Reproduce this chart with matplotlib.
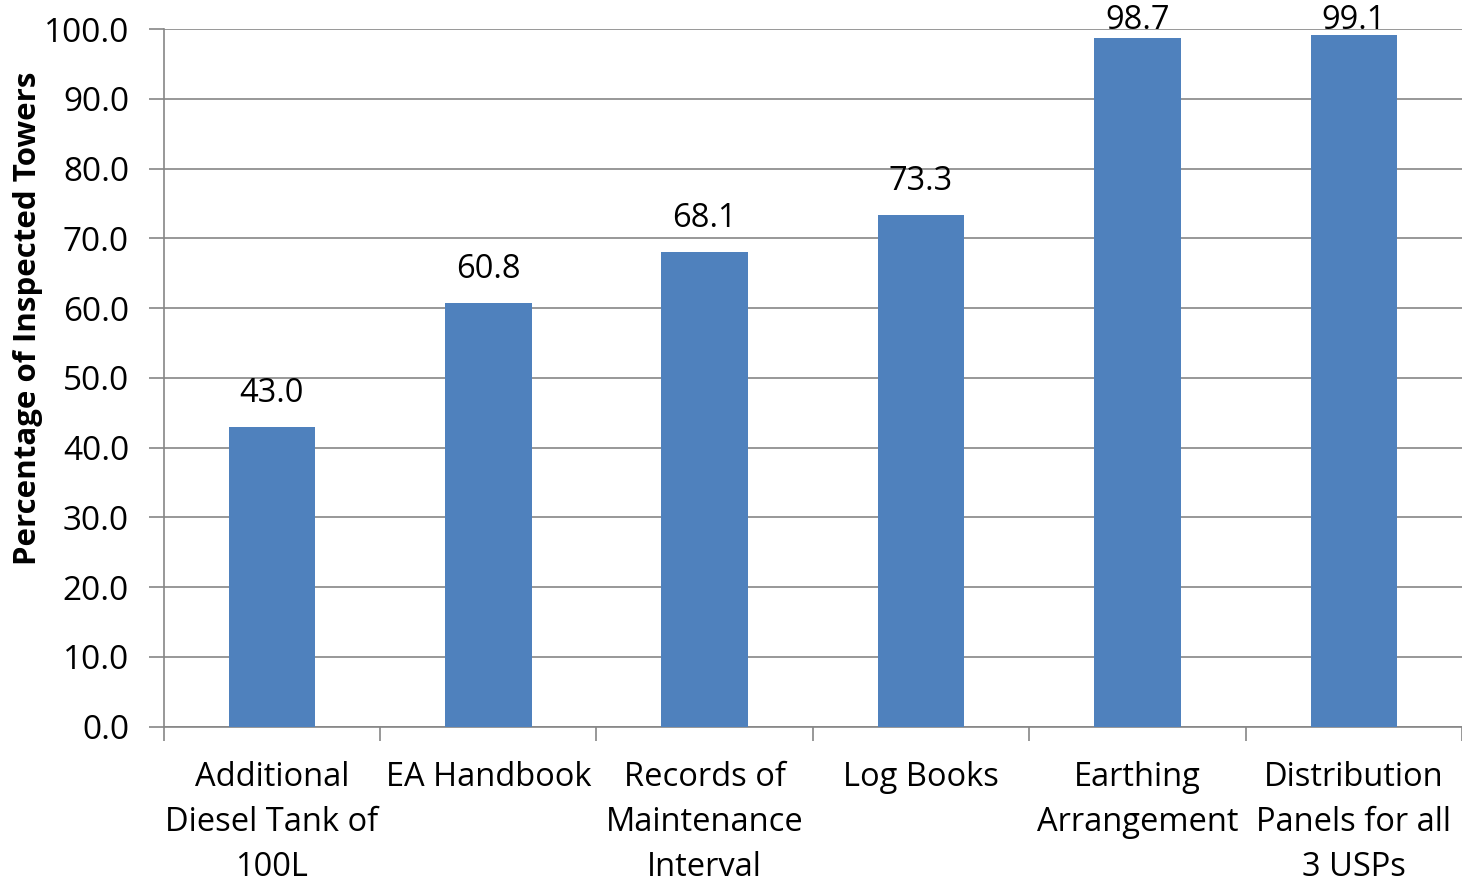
import matplotlib
matplotlib.use("Agg")
import matplotlib.pyplot as plt
import numpy as np

categories = ["Additional\nDiesel Tank of\n100L", "EA Handbook", "Records of\nMaintenance\nInterval",
              "Log Books", "Earthing\nArrangement", "Distribution\nPanels for all\n3 USPs"]
values = [43.0, 60.8, 68.1, 73.3, 98.7, 99.1]

plt.rcParams['font.family'] = ['Open Sans', 'DejaVu Sans']

fig = plt.figure(figsize=(14.62, 8.83), dpi=100)
ax = fig.add_axes([0.112, 0.177, 0.888, 0.79])

x = np.arange(len(categories))
bars = ax.bar(x, values, width=0.4, color='#4f81bd', zorder=3)
for b, v in zip(bars, values):
    # labels near the top get pushed down onto the bar, like excel does
    ly = min(v + 4.8, 101.3)
    ax.text(b.get_x() + b.get_width() / 2, ly, f"{v:.1f}", ha='center', va='center',
            fontsize=23.5, zorder=4, clip_on=False)

ax.set_xlim(-0.5, len(categories) - 0.5)
ax.set_ylim(0, 100)
ax.set_yticks(np.arange(0, 101, 10))
ax.set_yticklabels([f"{t:.1f}" for t in np.arange(0, 101, 10)], fontsize=24)
ax.yaxis.grid(True, color='#868686', linewidth=1.2, zorder=0)

ax.set_xticks(x)
ax.set_xticklabels(categories, fontsize=23.5, linespacing=1.48)
ax.tick_params(axis='x', length=0, pad=25)
ax.set_xticks(np.arange(-0.5, len(categories), 1.0), minor=True)
ax.tick_params(axis='x', which='minor', length=10, color='#868686', width=1.2)
ax.tick_params(axis='y', length=11, color='#868686', width=1.2, pad=14)

for s in ['top', 'right']:
    ax.spines[s].set_visible(False)
for s in ['left', 'bottom']:
    ax.spines[s].set_color('#868686')
    ax.spines[s].set_linewidth(1.2)

ax.set_ylabel("Percentage of Inspected Towers", fontsize=22.5, fontweight='bold')
ax.yaxis.set_label_coords(-0.093, 0.586)

fig.savefig("out.png", dpi=100)
